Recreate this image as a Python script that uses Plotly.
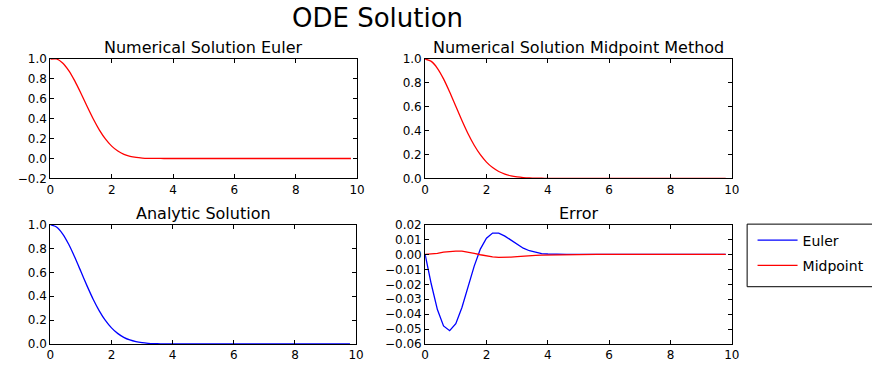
import plotly.graph_objects as go

t = [0.0, 0.2, 0.4, 0.6, 0.8, 1.0, 1.2, 1.4, 1.6, 1.8,
     2.0, 2.2, 2.4, 2.6, 2.8, 3.0, 3.2, 3.4, 3.6, 3.8,
     4.0, 4.2, 4.4, 4.6, 4.8, 5.0, 5.2, 5.4, 5.6, 5.8,
     6.0, 6.2, 6.4, 6.6, 6.8, 7.0, 7.2, 7.4, 7.6, 7.8,
     8.0, 8.2, 8.4, 8.6, 8.8, 9.0, 9.2, 9.4, 9.6, 9.8]

euler = [1.0, 1.0, 0.96, 0.8832, 0.7772, 0.6529, 0.5223, 0.3969, 0.2858, 0.1943,
         0.1244, 0.0746, 0.0418, 0.0217, 0.0104, 0.0046, 0.0018, 0.0007, 0.0002, 0.0001,
         0.0, 0.0, 0.0, 0.0, 0.0, 0.0, 0.0, 0.0, 0.0, 0.0,
         0.0, 0.0, 0.0, 0.0, 0.0, 0.0, 0.0, 0.0, 0.0, 0.0,
         0.0, 0.0, 0.0, 0.0, 0.0, 0.0, 0.0, 0.0, 0.0, 0.0]

midpoint = [1.0, 0.98, 0.9224, 0.8338, 0.7241, 0.6042, 0.4846, 0.3737, 0.2773, 0.1981,
            0.1364, 0.0905, 0.058, 0.036, 0.0216, 0.0126, 0.0071, 0.0039, 0.0021, 0.0011,
            0.0006, 0.0003, 0.0001, 0.0001, 0.0, 0.0, 0.0, 0.0, 0.0, 0.0,
            0.0, 0.0, 0.0, 0.0, 0.0, 0.0, 0.0, 0.0, 0.0, 0.0,
            0.0, 0.0, 0.0, 0.0, 0.0, 0.0, 0.0, 0.0, 0.0, 0.0]

analytic = [1.0, 0.9802, 0.9231, 0.8353, 0.7261, 0.6065, 0.4868, 0.3753, 0.278, 0.1979,
            0.1353, 0.0889, 0.0561, 0.034, 0.0198, 0.0111, 0.006, 0.0031, 0.0015, 0.0007,
            0.0003, 0.0001, 0.0, 0.0, 0.0, 0.0, 0.0, 0.0, 0.0, 0.0,
            0.0, 0.0, 0.0, 0.0, 0.0, 0.0, 0.0, 0.0, 0.0, 0.0,
            0.0, 0.0, 0.0, 0.0, 0.0, 0.0, 0.0, 0.0, 0.0, 0.0]

err_euler = [0.0, -0.0198, -0.0369, -0.0479, -0.0511, -0.0464, -0.0355, -0.0216, -0.0078, 0.0036,
             0.0109, 0.0143, 0.0143, 0.0123, 0.0094, 0.0065, 0.0042, 0.0025, 0.0013, 0.0006,
             0.0003, 0.0001, 0.0, 0.0, 0.0, 0.0, 0.0, 0.0, 0.0, 0.0,
             0.0, 0.0, 0.0, 0.0, 0.0, 0.0, 0.0, 0.0, 0.0, 0.0,
             0.0, 0.0, 0.0, 0.0, 0.0, 0.0, 0.0, 0.0, 0.0, 0.0]

err_mid = [0.0, 0.0002, 0.0007, 0.0015, 0.002, 0.0023, 0.0022, 0.0016, 0.0007, -0.0002,
           -0.0011, -0.0016, -0.0019, -0.002, -0.0018, -0.0015, -0.0011, -0.0008, -0.0006, -0.0004,
           -0.0003, -0.0002, -0.0001, -0.0001, 0.0, 0.0, 0.0, 0.0, 0.0, 0.0,
           0.0, 0.0, 0.0, 0.0, 0.0, 0.0, 0.0, 0.0, 0.0, 0.0,
           0.0, 0.0, 0.0, 0.0, 0.0, 0.0, 0.0, 0.0, 0.0, 0.0]

titles = ["Numerical Solution Euler", "Numerical Solution Midpoint Method",
          "Analytic Solution", "Error"]
suptitle = "ODE Solution"

W, H = 872, 377
FONT = "DejaVu Sans"
RED = "#ff0000"
BLUE = "#0000ff"

# pixel boxes: (left, right, top, bottom)
boxes = [(47, 358, 54, 178), (427, 738, 54, 178), (47, 357, 226, 350), (427, 738, 226, 350)]
yranges = [[-0.2, 1.0], [0.0, 1.0], [0.0, 1.0], [-0.06, 0.02]]
ydticks = [0.2, 0.2, 0.2, 0.01]
yfmts = [".1f", ".1f", ".1f", ".2f"]

smooth = dict(shape="spline", smoothing=0.6, width=1.3)

fig = go.Figure()

fig.add_trace(go.Scatter(x=t, y=euler, mode="lines", line=dict(color=RED, **smooth),
                         xaxis="x", yaxis="y", showlegend=False))
fig.add_trace(go.Scatter(x=t, y=midpoint, mode="lines", line=dict(color=RED, **smooth),
                         xaxis="x2", yaxis="y2", showlegend=False))
fig.add_trace(go.Scatter(x=t, y=analytic, mode="lines", line=dict(color=BLUE, **smooth),
                         xaxis="x3", yaxis="y3", showlegend=False))
fig.add_trace(go.Scatter(x=t, y=err_euler, mode="lines", line=dict(color=BLUE, width=1.3),
                         xaxis="x4", yaxis="y4", name="Euler", legendgroup="a"))
fig.add_trace(go.Scatter(x=t, y=err_mid, mode="lines", line=dict(color=RED, width=1.3),
                         xaxis="x4", yaxis="y4", name="Midpoint", legendgroup="b"))

layout = dict(
    width=W, height=H,
    margin=dict(l=0, r=0, t=0, b=0),
    paper_bgcolor="white", plot_bgcolor="white",
    font=dict(family=FONT, size=12, color="black"),
    showlegend=True,
    legend=dict(x=759 / W, y=1 - 226 / H, xanchor="left", yanchor="top",
                borderwidth=0, bgcolor="rgba(0,0,0,0)",
                font=dict(family=FONT, size=14, color="black"),
                tracegroupgap=4, itemwidth=40, traceorder="grouped"),
    annotations=[],
    shapes=[dict(type="rect", xref="paper", yref="paper",
                 x0=753.5 / W, x1=1.02, y0=1 - 290.5 / H, y1=1 - 225.5 / H,
                 line=dict(color="black", width=1), fillcolor="rgba(0,0,0,0)",
                 layer="below")],
)

for i, (l, r, tp, b) in enumerate(boxes):
    sfx = "" if i == 0 else str(i + 1)
    anc = "" if i == 0 else str(i + 1)
    layout["xaxis" + sfx] = dict(
        domain=[l / W, r / W], anchor="y" + anc, range=[0, 10], dtick=2, tick0=0,
        showgrid=False, zeroline=False, showline=True, linecolor="black", linewidth=1,
        mirror="allticks", ticks="inside", ticklen=4, tickcolor="black",
        tickfont=dict(family=FONT, size=12, color="black"),
    )
    layout["yaxis" + sfx] = dict(
        domain=[1 - b / H, 1 - tp / H], anchor="x" + anc, range=yranges[i],
        dtick=ydticks[i], tick0=0, tickformat=yfmts[i],
        showgrid=False, zeroline=False, showline=True, linecolor="black", linewidth=1,
        mirror="allticks", ticks="inside", ticklen=4, tickcolor="black",
        tickfont=dict(family=FONT, size=12, color="black"),
    )
    layout["annotations"].append(dict(
        text=titles[i], x=(l + r) / 2 / W, y=1 - tp / H, xref="paper", yref="paper",
        xanchor="center", yanchor="bottom", yshift=0, showarrow=False,
        font=dict(family=FONT, size=16, color="black"),
    ))

layout["annotations"].append(dict(
    text=suptitle, x=378.5 / W, y=1 - 11 / H, xref="paper", yref="paper",
    xanchor="center", yanchor="middle", showarrow=False,
    font=dict(family=FONT, size=26, color="black"),
))

fig.update_layout(**layout)
fig.write_html("out.html")
